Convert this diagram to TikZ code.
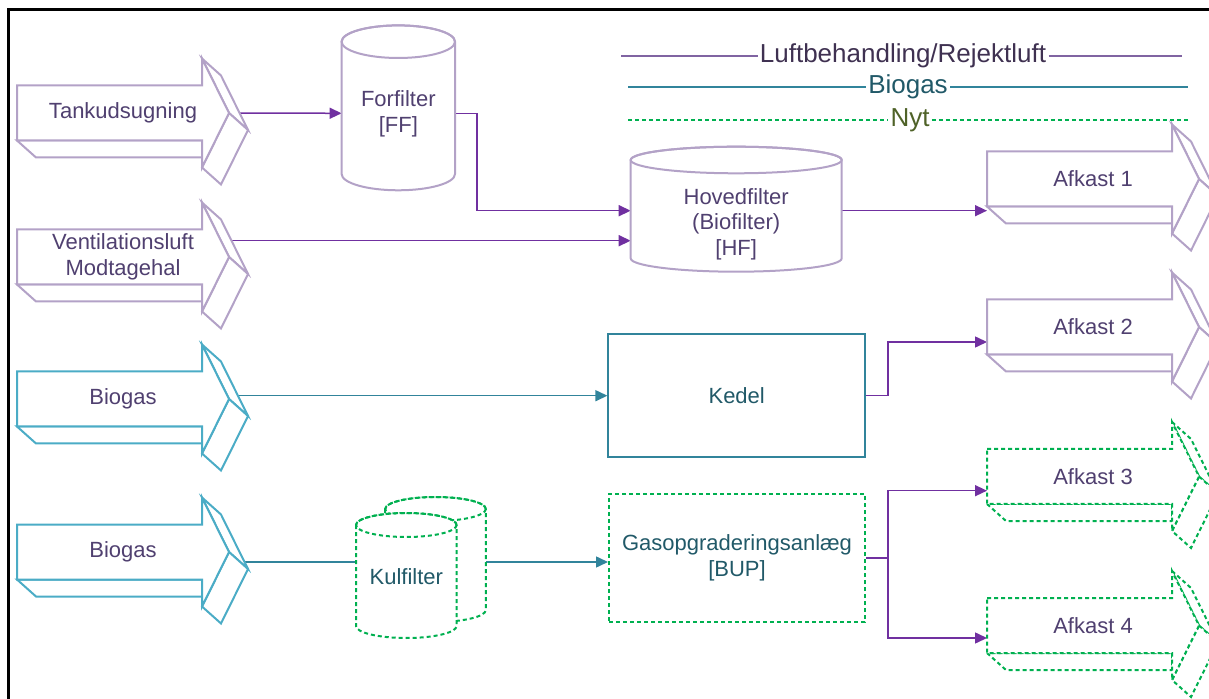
\documentclass[tikz,border=0pt]{standalone}
\usepackage{fontspec}
\setmainfont{Liberation Sans}
\usetikzlibrary{arrows.meta}

\definecolor{luftlys}{HTML}{B3A2C7}
\definecolor{luft}{HTML}{7030A0}
\definecolor{luftleg}{HTML}{8064A2}
\definecolor{lufttekst}{HTML}{504070}
\definecolor{luftlegtekst}{HTML}{3F3151}
\definecolor{gaslys}{HTML}{4BACC6}
\definecolor{gas}{HTML}{31849B}
\definecolor{gastekst}{HTML}{215968}
\definecolor{nyt}{HTML}{00B050}
\definecolor{nyttekst}{HTML}{4F6228}

\pgfdeclarelayer{bag}
\pgfsetlayers{bag,main}

\tikzset{
  luftkant/.style={draw=luftlys, line width=1pt},
  gaskant/.style={draw=gaslys, line width=1pt},
  nytkant/.style={draw=nyt, line width=1pt, dash pattern=on 2pt off 1.5pt},
  luftlinje/.style={draw=luft, line width=0.75pt},
  luftpil/.style={luftlinje, -{Triangle[length=6pt,width=5.5pt]}},
  gaslinje/.style={draw=gas, line width=0.75pt},
  gaspil/.style={gaslinje, -{Triangle[length=6pt,width=5.5pt]}},
  piltekst/.style={text=lufttekst, align=center},
  legtekst/.style={font=\fontsize{13}{15}\selectfont, inner sep=1pt},
}

\newcommand{\blokpil}[5]{%
  \begin{scope}[shift={(#2,#3)}]
    \filldraw[#4, fill=white] (185,-54.5) -- (204,-37.5) -- (231,17) -- (212,0) -- cycle;
    \filldraw[#4, fill=white] (212,0) -- (231,17) -- (204,71.5) -- (185,54.5) -- cycle;
    \filldraw[#4, fill=white] (0,27.5) -- (19,44.5) -- (185,44.5) -- (185,27.5) -- cycle;
    \filldraw[#4, fill=white] (0,-27.5) -- (185,-27.5) -- (185,-54.5) -- (212,0)
      -- (185,54.5) -- (185,27.5) -- (0,27.5) -- cycle;
    \node[piltekst] (#1) at (106,0) {#5};
    \coordinate (#1-spids) at (212,0);
    \coordinate (#1-hale) at (0,0);
  \end{scope}}

\newcommand{\tromle}[6]{%
  \filldraw[#6, fill=white] ({#1-#2},#3) -- ({#1-#2},#4)
    arc[start angle=180, end angle=0, x radius=#2, y radius=#5] -- ({#1+#2},#3)
    arc[start angle=0, end angle=-180, x radius=#2, y radius=#5] -- cycle;
  \draw[#6] (#1,#3) ellipse[x radius=#2, y radius=#5];}

\begin{document}
\begin{tikzpicture}[x=0.5pt, y=-0.5pt, font=\fontsize{11}{12.8}\selectfont]
        \useasboundingbox (0,0) rectangle (1209,699);
        \clip (0,0) rectangle (1209,699);
        \draw[line width=1.5pt] (8.5,699) -- (8.5,9.5) -- (1209,9.5);

        \blokpil{tank}{17}{113}{luftkant}{Tankudsugning}
        \blokpil{vent}{17}{257}{luftkant}{Ventilationsluft\\Modtagehal}
        \blokpil{gas1}{17}{399}{gaskant}{Biogas}
        \blokpil{gas2}{17}{552}{gaskant}{Biogas}
        \blokpil{afk1}{987}{179}{luftkant}{Afkast 1}
        \blokpil{afk2}{987}{327}{luftkant}{Afkast 2}
        \blokpil{afk3}{987}{476.5}{nytkant}{Afkast 3}
        \blokpil{afk4}{987}{625.5}{nytkant}{Afkast 4}

        \tromle{398.3}{56.7}{41.7}{174}{16.3}{luftkant}
        \tromle{736.2}{105.5}{160}{258.4}{13.3}{luftkant}
        \tromle{435.5}{50.3}{509}{610}{12}{nytkant}
        \tromle{406.3}{50.3}{525}{626}{12}{nytkant}

        \node[text=lufttekst, align=center] (ff) at (398.3,114) {Forfilter\\{[FF]}};
        \node[text=lufttekst, align=center] (hf) at (736.2,224) {Hovedfilter\\(Biofilter)\\{[HF]}};
        \node[text=gastekst] (kul) at (406.3,577) {Kulfilter};
        \node[draw=gas, line width=1pt, text=gastekst, minimum width=128.3pt,
              minimum height=61.7pt] (kedel) at (736.7,395.7) {Kedel};
        \node[nytkant, text=gastekst, align=center, minimum width=128pt,
              minimum height=64pt] (bup) at (737,558) {Gasopgraderingsanlæg\\{[BUP]}};

        \coordinate (ff-ind) at (341.6,113.3);
        \coordinate (ff-ud) at (455,113.3);
        \coordinate (k1) at (477,210.7);
        \coordinate (hf-ind1) at (630.7,210.7);
        \coordinate (hf-ind2) at (630.7,240.7);
        \coordinate (hf-ud) at (841.7,210.7);
        \coordinate (k2) at (888,342);
        \coordinate (k3) at (888,490.7);
        \coordinate (k4) at (888,638);
        \coordinate (kul-ind) at (356,562);
        \coordinate (kul-ud) at (485.8,562);

        \node[legtekst, text=luftlegtekst] (leg1) at (903,56) {Luftbehandling/Rejektluft};
        \node[legtekst, text=gastekst] (leg2) at (908,87) {Biogas};
        \node[legtekst, text=nyttekst] (leg3) at (910,120) {Nyt};
        \coordinate (leg1a) at (621,56);
        \coordinate (leg1b) at (1182,56);
        \coordinate (leg2a) at (628,87);
        \coordinate (leg2b) at (1188,87);
        \coordinate (leg3a) at (628,120);
        \coordinate (leg3b) at (1188,120);
        \draw[draw=luftleg, line width=0.75pt] (leg1a) -- (leg1) -- (leg1b);
        \draw[draw=gas, line width=0.75pt] (leg2a) -- (leg2) -- (leg2b);
        \draw[nytkant] (leg3a) -- (leg3) -- (leg3b);

        \begin{pgfonlayer}{bag}
        \draw[luftpil] (tank-spids) -- (ff-ind);
        \draw[luftpil] (ff-ud) -| (k1) -- (hf-ind1);
        \draw[luftpil] (vent-spids |- hf-ind2) -- (hf-ind2);
        \draw[luftpil] (hf-ud) -- (afk1-hale |- hf-ud);
        \draw[gaspil] (gas1-spids |- kedel.west) -- (kedel.west);
        \draw[luftpil] (kedel.east) -| (k2) -- (afk2-hale |- k2);
        \draw[gaslinje] (gas2-spids |- kul-ind) -- (kul-ind);
        \draw[gaspil] (kul-ud) -- (bup.west |- kul-ud);
        \draw[luftpil] (bup.east) -| (k3) -- (afk3-hale |- k3);
        \draw[luftpil] (bup.east) -| (k4) -- (afk4-hale |- k4);
        \end{pgfonlayer}
\end{tikzpicture}
\end{document}
